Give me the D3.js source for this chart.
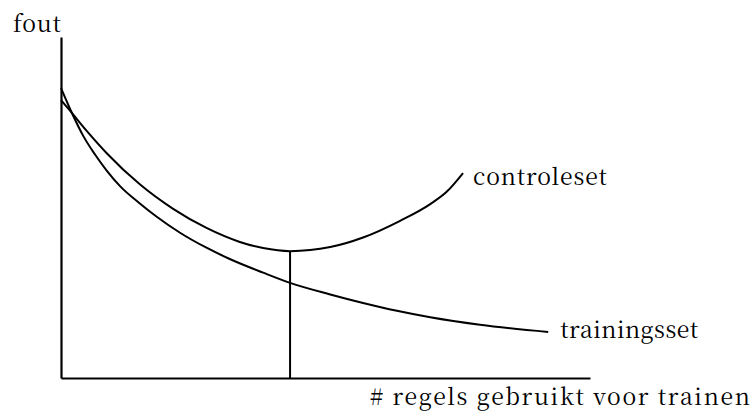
<!DOCTYPE html>
<html>
<head>
<meta charset="utf-8">
<script src="https://cdn.jsdelivr.net/npm/d3@7"></script>
</head>
<body style="margin:0;background:#fff">
<svg id="fig" width="754" height="411" style="display:block"></svg>
<script>
// Data (arbitrary units)
const trainingX = [0, 2.3, 4.2, 6.4, 8.6, 11.2, 14.9, 18.1, 22.5, 27.5, 31.9, 38.2, 43.3, 50.9, 57.1, 63.5, 69.8, 79.2, 92.1];
const trainingY = [85, 76.9, 71.0, 65.6, 60.9, 56.2, 51.2, 47.3, 42.6, 38.2, 34.9, 30.9, 27.9, 24.5, 22.0, 19.7, 17.8, 15.6, 13.5];
const controleX = [0, 1.7, 4.9, 8.6, 14.9, 21.2, 27.5, 33.8, 38.2, 43.3, 50.9, 57.1, 64.1, 69.8, 72.9, 76.0];
const controleY = [81.5, 78.4, 72.4, 66.0, 56.8, 49.6, 44.0, 39.9, 38.1, 37.2, 38.4, 41.2, 46.1, 51.0, 54.6, 60.1];
const optimumX = 43.3;
const seriesLabels = ["controleset", "trainingsset"];
const yAxisLabel = "fout";
const xAxisLabel = "# regels gebruikt voor trainen";

const svg = d3.select("#fig");
const x = d3.scaleLinear().domain([0, 100]).range([61, 590]);
const y = d3.scaleLinear().domain([0, 100]).range([378, 37]);

const line = d3.line().x(d => x(d[0])).y(d => y(d[1])).curve(d3.curveMonotoneX);

const training = trainingX.map((v, i) => [v, trainingY[i]]);
const controle = controleX.map((v, i) => [v, controleY[i]]);

// axes (no ticks)
svg.append("g").attr("transform", `translate(0,${y(0)})`)
  .call(d3.axisBottom(x).tickValues([]).tickSizeOuter(0));
svg.append("g").attr("transform", `translate(${x(0)},0)`)
  .call(d3.axisLeft(y).tickValues([]).tickSizeOuter(0));
svg.selectAll(".domain").attr("stroke", "#000").attr("stroke-width", 2.2);

// curves
svg.append("path").datum(training).attr("d", line)
  .attr("fill", "none").attr("stroke", "#000").attr("stroke-width", 2);
svg.append("path").datum(controle).attr("d", line)
  .attr("fill", "none").attr("stroke", "#000").attr("stroke-width", 2);

// optimum marker
const minY = controleY[controleX.indexOf(optimumX)];
svg.append("line")
  .attr("x1", x(optimumX)).attr("x2", x(optimumX))
  .attr("y1", y(0)).attr("y2", y(minY))
  .attr("stroke", "#000").attr("stroke-width", 2);

// labels
const labels = svg.append("g")
  .attr("font-family", "Noto Serif CJK SC, Liberation Serif, serif")
  .style("font-family", '"Noto Serif CJK SC", "Liberation Serif", serif');
function label(txt, px, py, len) {
  labels.append("text").attr("x", px).attr("y", py)
    .attr("font-size", 23)
    .attr("fill", "#000")
    .attr("textLength", len).attr("lengthAdjust", "spacing")
    .text(txt);
}
const cEnd = controle[controle.length - 1];
const tEnd = training[training.length - 1];
label(seriesLabels[0], x(cEnd[0]) + 10, y(cEnd[1]) + 12, 134);
label(seriesLabels[1], x(tEnd[0]) + 12, y(tEnd[1]) + 6, 138);
label(yAxisLabel, 13, 32, 48);
label(xAxisLabel, 370, 405, 380);
</script>
</body>
</html>
